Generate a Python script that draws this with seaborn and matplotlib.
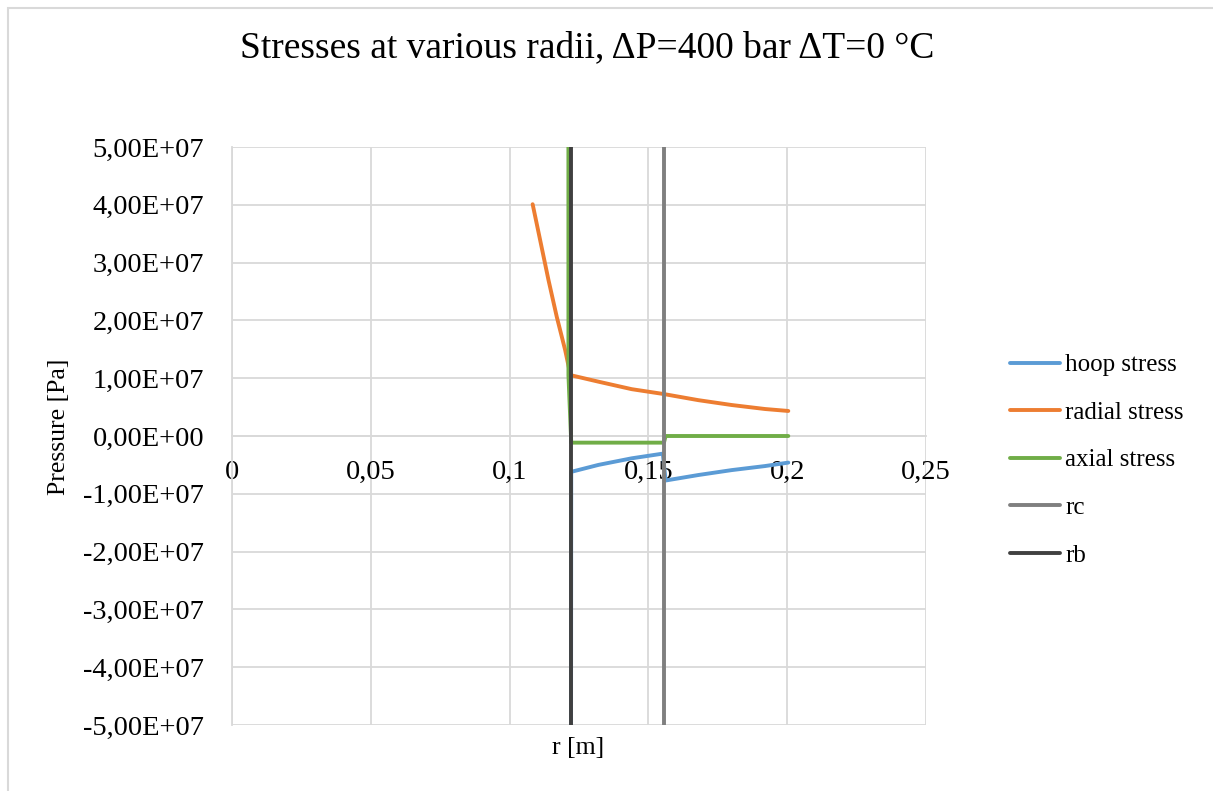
import matplotlib.pyplot as plt
import pandas as pd
import numpy as np
import seaborn as sns

sns.set_theme(style="white")
plt.rcParams['font.family'] = ['Liberation Serif', 'DejaVu Serif']
plt.rcParams['text.color'] = 'black'

# Дані
hoop_r = [0.1213, 0.1222, 0.1320, 0.1440, 0.1552, 0.1562, 0.1680, 0.1800, 0.1920, 0.2004]
hoop_s = [-6.0e8, -6.2e6, -5.0e6, -3.86e6, -3.05e6, -7.7e6, -6.75e6, -5.9e6, -5.2e6, -4.6e6]

radial_r = [0.1083, 0.1110, 0.1140, 0.1170, 0.1200, 0.1218, 0.1222, 0.1320, 0.1440, 0.1554,
            0.1680, 0.1800, 0.1920, 0.2004]
radial_s = [4.01e7, 3.39e7, 2.70e7, 2.06e7, 1.49e7, 1.08e7, 1.05e7, 9.4e6, 8.1e6, 7.27e6,
            6.2e6, 5.36e6, 4.67e6, 4.33e6]

axial_r = [0.1210, 0.1212, 0.1222, 0.1556, 0.1562, 0.2004]
axial_s = [6.0e8, 1.05e7, -1.15e6, -1.15e6, 0.0, 0.0]

rc_r = [0.1556, 0.1556]
rc_s = [-5e7, 5e7]
rb_r = [0.1221, 0.1221]
rb_s = [-5e7, 5e7]

series_names = ['hoop stress', 'radial stress', 'axial stress', 'rc', 'rb']
series_colors = ['#5B9BD5', '#ED7D31', '#70AD47', '#7F7F7F', '#404040']

x_ticks = [0, 0.05, 0.1, 0.15, 0.2, 0.25]
x_labels = ['0', '0,05', '0,1', '0,15', '0,2', '0,25']
y_ticks = [5e7, 4e7, 3e7, 2e7, 1e7, 0, -1e7, -2e7, -3e7, -4e7, -5e7]
y_labels = [f'{v:.2E}'.replace('.', ',') for v in y_ticks]

# Збираємо long-form таблицю
parts = []
for name, r, s in zip(series_names, [hoop_r, radial_r, axial_r, rc_r, rb_r],
                      [hoop_s, radial_s, axial_s, rc_s, rb_s]):
    parts.append(pd.DataFrame({'r': r, 'stress': s, 'series': name}))
data = pd.concat(parts, ignore_index=True)

fig = plt.figure(figsize=(12.13, 7.91), dpi=100)
ax = fig.add_axes([232 / 1213, 1 - 725 / 791, 694 / 1213, 578 / 791])

sns.lineplot(data=data, x='r', y='stress', hue='series', hue_order=series_names,
             palette=series_colors, sort=False, estimator=None, linewidth=2.8, ax=ax)

ax.set_xlim(0, 0.25)
ax.set_ylim(-5e7, 5e7)
ax.set_xticks(x_ticks)
ax.set_xticklabels(x_labels)
ax.set_yticks(y_ticks)
ax.set_yticklabels(y_labels)
ax.tick_params(axis='both', length=0, labelsize=20.5, colors='black')
ax.tick_params(axis='y', pad=20)
ax.tick_params(axis='x', pad=17)
ax.grid(True, color='#D9D9D9', linewidth=1.3)
ax.set_axisbelow(True)
for side in ['top', 'right']:
    ax.spines[side].set_visible(False)
ax.spines['bottom'].set_position(('data', 0))
for side in ['bottom', 'left']:
    ax.spines[side].set_color('#D9D9D9')
    ax.spines[side].set_linewidth(1.3)
    ax.spines[side].set_zorder(1)
ax.set_xlabel('')
ax.set_ylabel('')

ax.legend(loc='upper left', bbox_to_anchor=(1000 / 1213, 1 - 344 / 791),
          bbox_transform=fig.transFigure, frameon=False, fontsize=18,
          handlelength=2.0, handletextpad=0.2, labelspacing=1.0, borderaxespad=0)

fig.text(587 / 1213, 1 - 48 / 791, 'Stresses at various radii, ΔP=400 bar ΔT=0 °C',
         ha='center', va='center', fontsize=27)
fig.text(59 / 1213, 1 - 427 / 791, 'Pressure [Pa]', rotation=90, ha='center', va='center', fontsize=18.5)
fig.text(578 / 1213, 1 - 748 / 791, 'r [m]', ha='center', va='center', fontsize=18.5)

# Рамка області діаграми
fig.patches.append(plt.Rectangle((8 / 1213, -0.1), 1.2, 1 - 8 / 791 + 0.1, transform=fig.transFigure,
                                 fill=False, edgecolor='#D9D9D9', linewidth=1.5))

plt.savefig('out.png', dpi=100)
